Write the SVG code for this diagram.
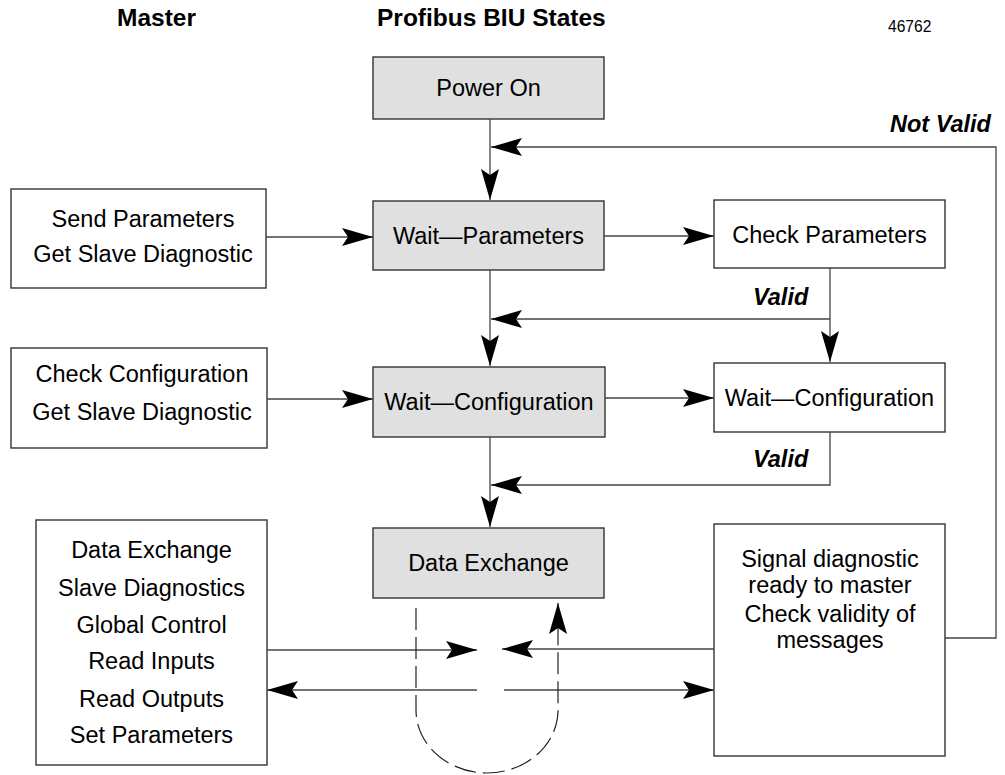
<svg xmlns="http://www.w3.org/2000/svg" width="1005" height="775" viewBox="0 0 1005 775">
<style>
.box{fill:#fff;stroke:#333;stroke-width:1.4}
.state{fill:#e0e0e0;stroke:#333;stroke-width:1.4}
.t{font-family:"Liberation Sans",Arial,sans-serif;font-size:23.5px;fill:#000;text-anchor:middle}
.h{font-family:"Liberation Sans",Arial,sans-serif;font-size:24.5px;font-weight:bold;fill:#000}
.lbl{font-family:"Liberation Sans",Arial,sans-serif;font-size:23.5px;font-weight:bold;font-style:italic;fill:#000}
.c{fill:none;stroke:#444;stroke-width:1.3}
.d{fill:none;stroke:#222;stroke-width:1.2;stroke-dasharray:22 7}
</style>
<defs>
<marker id="ah" markerUnits="userSpaceOnUse" markerWidth="32" markerHeight="20" viewBox="-31 -10 32 20" refX="0" refY="0" orient="auto">
<path d="M0,0 L-31,-9 L-25,0 L-31,9 Z" fill="#000"/>
</marker>
</defs>
<g id="headers">
<text class="h" x="117" y="26">Master</text>
<text class="h" x="377" y="26">Profibus BIU States</text>
<text x="888" y="32" style="font-family:'Liberation Sans',Arial,sans-serif;font-size:15.6px;fill:#000">46762</text>
</g>
<g id="power-on"><rect class="state" x="373" y="57" width="231" height="62"/><text class="t" x="488.5" y="96">Power On</text></g>
<g id="wait-parameters"><rect class="state" x="373" y="201" width="231" height="69"/><text class="t" x="488.5" y="244">Wait—Parameters</text></g>
<g id="wait-configuration"><rect class="state" x="373" y="367" width="232" height="70"/><text class="t" x="489" y="410">Wait—Configuration</text></g>
<g id="data-exchange"><rect class="state" x="373" y="528" width="231" height="70"/><text class="t" x="488.5" y="571">Data Exchange</text></g>
<g id="send-parameters"><rect class="box" x="11" y="189" width="255" height="99"/><text class="t" x="143" y="227">Send Parameters</text><text class="t" x="143" y="262">Get Slave Diagnostic</text></g>
<g id="check-configuration"><rect class="box" x="11" y="348" width="256" height="100"/><text class="t" x="142" y="382">Check Configuration</text><text class="t" x="142" y="420">Get Slave Diagnostic</text></g>
<g id="master-data"><rect class="box" x="36" y="520" width="231" height="245"/>
<text class="t" x="151.5" y="558">Data Exchange</text>
<text class="t" x="151.5" y="596">Slave Diagnostics</text>
<text class="t" x="151.5" y="633">Global Control</text>
<text class="t" x="151.5" y="669">Read Inputs</text>
<text class="t" x="151.5" y="707">Read Outputs</text>
<text class="t" x="151.5" y="743">Set Parameters</text></g>
<g id="check-parameters"><rect class="box" x="714" y="200" width="231" height="68"/><text class="t" x="829.5" y="243">Check Parameters</text></g>
<g id="wait-configuration-check"><rect class="box" x="714" y="363" width="231" height="69"/><text class="t" x="829.5" y="406">Wait—Configuration</text></g>
<g id="signal-diagnostic"><rect class="box" x="714" y="524" width="231" height="232"/>
<text class="t" x="830" y="567">Signal diagnostic</text>
<text class="t" x="830" y="593">ready to master</text>
<text class="t" x="830" y="622">Check validity of</text>
<text class="t" x="830" y="648">messages</text></g>
<g id="connectors">
<line class="c" x1="490" y1="119" x2="490" y2="200" marker-end="url(#ah)"/>
<path class="c" d="M945,638 H996 V147 H491" marker-end="url(#ah)"/>
<line class="c" x1="266" y1="237" x2="373" y2="237" marker-end="url(#ah)"/>
<line class="c" x1="604" y1="236" x2="714" y2="236" marker-end="url(#ah)"/>
<line class="c" x1="490" y1="270" x2="490" y2="366" marker-end="url(#ah)"/>
<line class="c" x1="830" y1="268" x2="830" y2="362" marker-end="url(#ah)"/>
<line class="c" x1="830" y1="319" x2="491" y2="319" marker-end="url(#ah)"/>
<line class="c" x1="267" y1="399" x2="373" y2="399" marker-end="url(#ah)"/>
<line class="c" x1="605" y1="398" x2="714" y2="398" marker-end="url(#ah)"/>
<line class="c" x1="490" y1="437" x2="490" y2="527" marker-end="url(#ah)"/>
<path class="c" d="M830,432 V485 H491" marker-end="url(#ah)"/>
<line class="c" x1="267" y1="650" x2="477" y2="650" marker-end="url(#ah)"/>
<line class="c" x1="714" y1="649" x2="502" y2="649" marker-end="url(#ah)"/>
<line class="c" x1="477" y1="690" x2="267" y2="690" marker-end="url(#ah)"/>
<line class="c" x1="504" y1="690" x2="714" y2="690" marker-end="url(#ah)"/>
<path class="d" d="M416,608 V710 A71 63 0 0 0 558 710 V603" marker-end="url(#ah)"/>
<text class="lbl" x="890" y="132">Not Valid</text>
<text class="lbl" x="753" y="305">Valid</text>
<text class="lbl" x="753" y="467">Valid</text>
</g>
</svg>
